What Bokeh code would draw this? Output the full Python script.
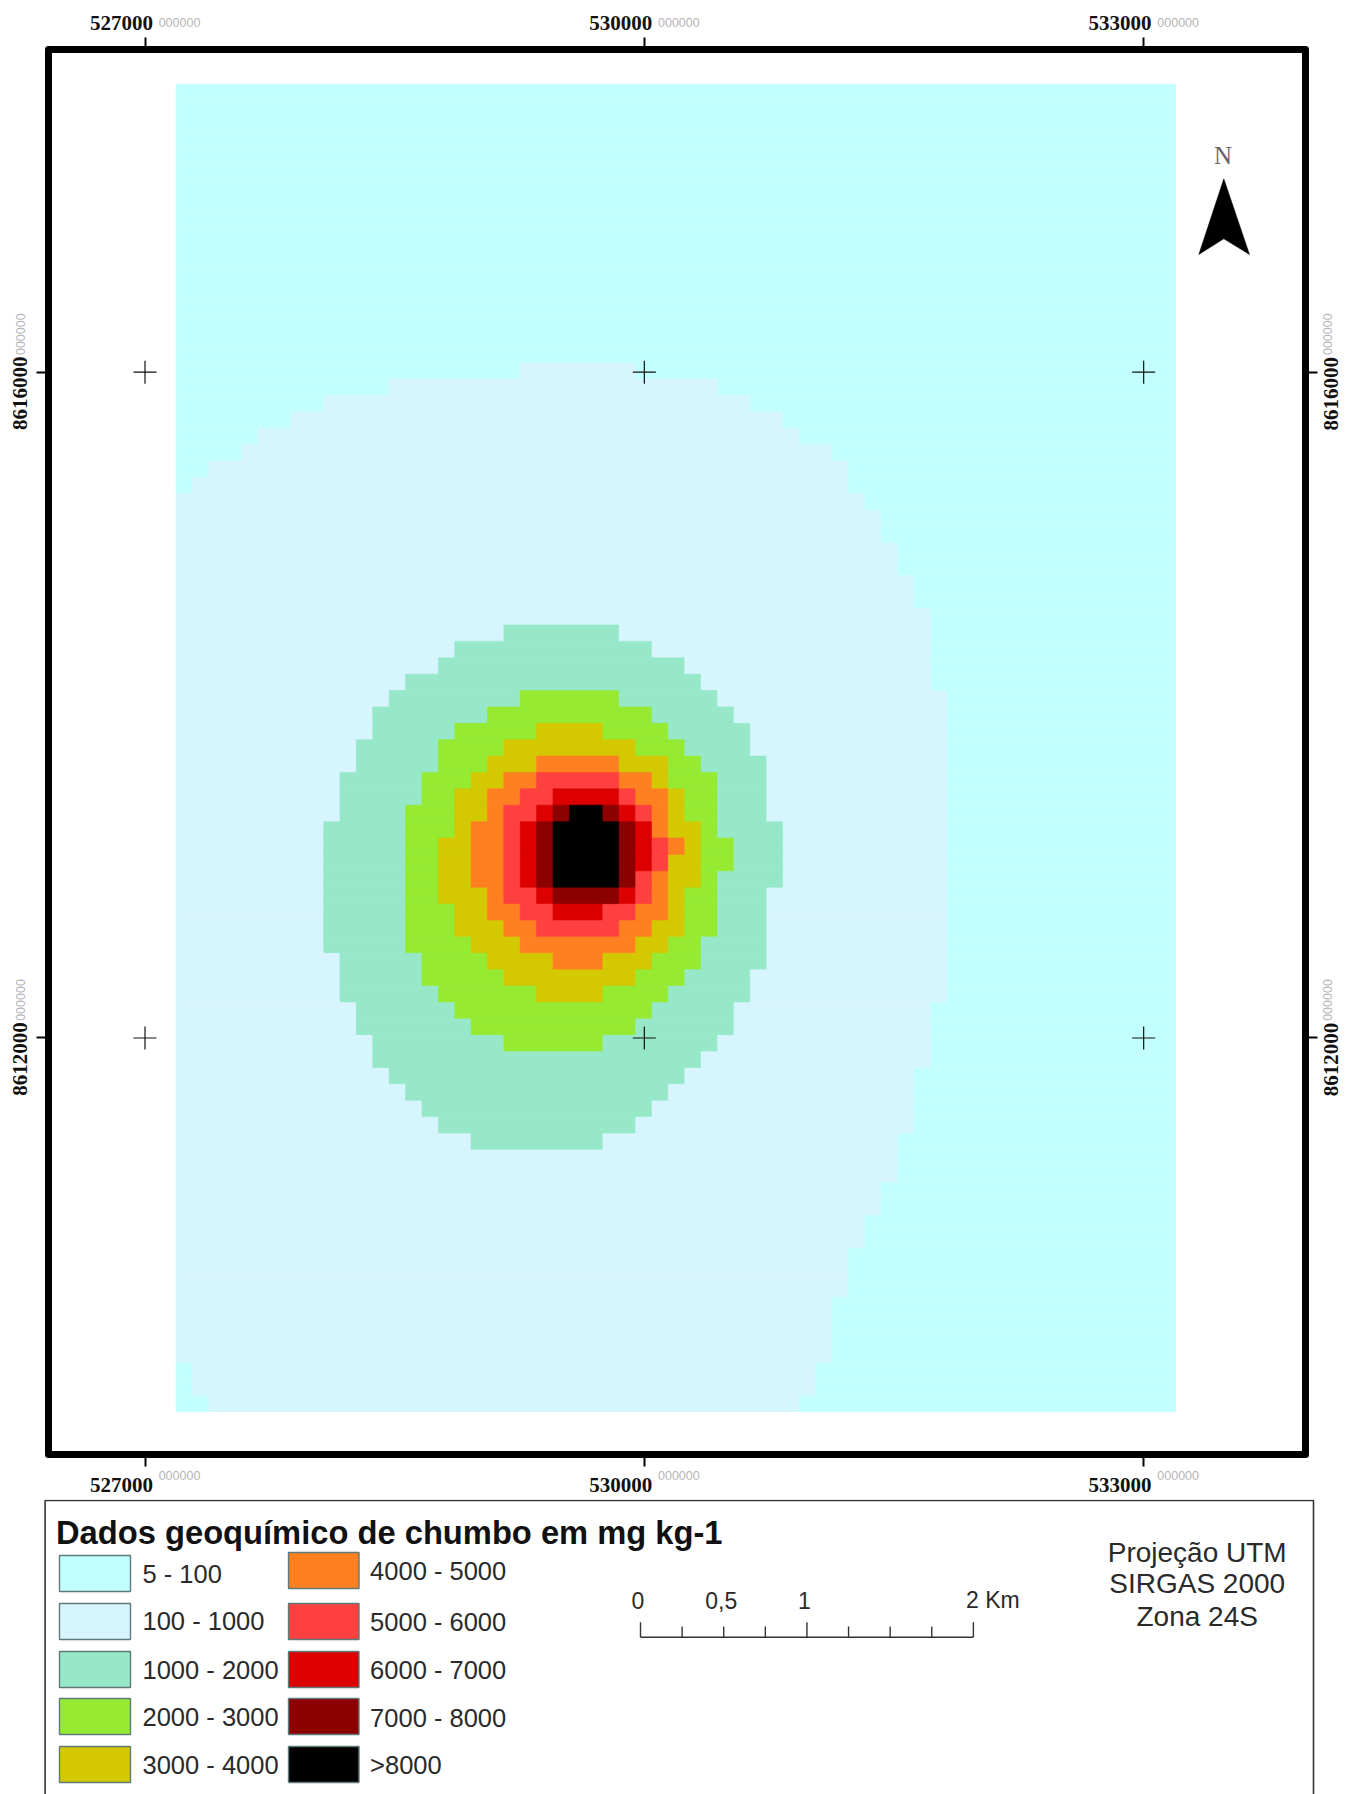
from math import pi
from bokeh.plotting import figure
from bokeh.layouts import column
from bokeh.models import (Range1d, LinearAxis, FixedTicker, Label)
from bokeh.embed import file_html
from bokeh.resources import INLINE
from bokeh.core.properties import value

# ---- data ----
x_ticks = [527000, 530000, 533000]
y_ticks = [8612000, 8616000]
legend_title = "Dados geoquímico de chumbo em mg kg-1"
legend_labels = ["5 - 100", "100 - 1000", "1000 - 2000", "2000 - 3000", "3000 - 4000",
                 "4000 - 5000", "5000 - 6000", "6000 - 7000", "7000 - 8000", ">8000"]
class_colors = ["#C2FFFF", "#D6F5FF", "#96E8C8", "#96EB32", "#D4C800",
                "#FF7F21", "#FF4040", "#DC0000", "#8C0000", "#000000"]
projection_lines = ["Projeção UTM", "SIRGAS 2000", "Zona 24S"]
scale_km = [0, 0.25, 0.5, 0.75, 1, 1.25, 1.5, 1.75, 2]
scale_labels = {0: "0", 0.5: "0,5", 1: "1"}

# raster origin and cell size (metres)
raster_x0 = 527187.0
raster_y0 = 8617730.0
cell = 98.45
raster_cols = 61
raster_rows = 81

# class zones as first row + per-row left/right cell (right exclusive), raster cells
c100_first = 17
c100_left = [21, 13, 9, 7, 5, 4, 2, 1,
             0, 0, 0, 0, 0, 0, 0, 0, 0, 0, 0, 0, 0, 0, 0, 0, 0, 0, 0, 0, 0, 0, 0, 0, 0,
             0, 0, 0, 0, 0, 0, 0, 0, 0, 0, 0, 0, 0, 0, 0, 0, 0, 0, 0, 0, 0, 0, 0, 0, 0,
             0, 0, 0, 1, 1, 2]
c100_right = [28, 33, 35, 37, 38, 40, 41, 41, 42, 43, 43, 44, 44, 45, 45, 46,
              46, 46, 46, 46,
              47, 47, 47, 47, 47, 47, 47, 47, 47, 47, 47, 47, 47, 47, 47, 47, 47, 47, 47,
              46, 46, 46, 46, 45, 45, 45, 45, 44, 44, 44, 43, 43, 42, 42, 41, 41, 41,
              40, 40, 40, 40, 39, 39, 38]

# inner zones: local cells, shifted by (core_col0, core_row0)
core_col0 = 9
core_row0 = 33
c1000_first = 0
c1000_left = [11, 8, 7, 5, 4, 3, 3, 2, 2, 1, 1, 1, 0, 0, 0, 0, 0, 0, 0, 0, 1, 1, 1, 2, 2, 3, 3, 4, 5, 6, 7, 9]
c1000_right = [18, 20, 22, 23, 24, 25, 26, 26, 27, 27, 27, 27, 28, 28, 28, 28, 27, 27, 27, 27, 27, 26, 26, 25, 25, 24, 23, 22, 21, 20, 19, 17]
c2000_first = 4
c2000_left = [12, 10, 8, 7, 7, 6, 6, 5, 5, 5, 5, 5, 5, 5, 5, 5, 6, 6, 7, 8, 9, 11]
c2000_right = [18, 20, 21, 22, 23, 24, 24, 24, 24, 25, 25, 24, 24, 24, 24, 23, 23, 22, 21, 20, 19, 17]
c3000_first = 6
c3000_left = [13, 11, 10, 9, 8, 8, 8, 7, 7, 7, 7, 8, 8, 9, 10, 11, 13]
c3000_right = [17, 19, 21, 21, 22, 22, 23, 23, 23, 23, 22, 22, 22, 21, 20, 19, 17]
c4000_first = 8
c4000_left = [13, 11, 10, 10, 9, 9, 9, 9, 10, 10, 11, 12, 14]
c4000_right = [18, 20, 21, 21, 21, 22, 21, 21, 21, 21, 20, 19, 17]
c5000_first = 9
c5000_left = [13, 12, 11, 11, 11, 11, 11, 11, 12, 13]
c5000_right = [18, 19, 20, 20, 21, 21, 20, 20, 19, 18]
c6000_first = 10
c6000_left = [14, 13, 12, 12, 12, 12, 13, 14]
c6000_right = [18, 19, 20, 20, 20, 19, 19, 17]
c7000_first = 11
c7000_left = [14, 13, 13, 13, 13, 14]
c7000_right = [18, 19, 19, 19, 19, 18]
c8000_first = 11
c8000_left = [15, 14, 14, 14, 14]
c8000_right = [17, 18, 18, 18, 18]

# ---- page geometry (the page template has no body margin) ----
M_PER_PX = 6.008
REF_PX_X, REF_PX_Y = 144.5, 371.7
FRAME = dict(l=48, r=1305, t=49, b=1454)
PAGE_W, TOP_H, BOT_H = 1351, 1499, 295
FONT = "Liberation Sans"
SERIF = "Liberation Serif"


def ux(px):
    return x_ticks[0] + (px - REF_PX_X) * M_PER_PX


def uy(py):
    return y_ticks[1] - (py - REF_PX_Y) * M_PER_PX


# the plot area covers the whole figure; the map frame and its axes sit at fixed places inside it
p = figure(width=PAGE_W, height=TOP_H, output_backend="svg", toolbar_location=None,
           x_range=Range1d(ux(0), ux(PAGE_W)), y_range=Range1d(uy(TOP_H), uy(0)),
           min_border=0, x_axis_type=None, y_axis_type=None, background_fill_color="white",
           border_fill_color="white", outline_line_color=None, frame_align=False)
p.grid.visible = False


def draw_zone(first, left, right, color, col0=0, row0=0):
    rows = [first + row0 + i for i in range(len(left))]
    p.quad(left=[raster_x0 + (l + col0) * cell for l in left],
           right=[raster_x0 + (r + col0) * cell for r in right],
           top=[raster_y0 - r * cell for r in rows],
           bottom=[raster_y0 - (r + 1) * cell for r in rows],
           fill_color=color, line_color=color, line_width=0.6)


draw_zone(0, [0] * raster_rows, [raster_cols] * raster_rows, class_colors[0])
draw_zone(c100_first, c100_left, c100_right, class_colors[1])
zones = [(c1000_first, c1000_left, c1000_right), (c2000_first, c2000_left, c2000_right),
         (c3000_first, c3000_left, c3000_right), (c4000_first, c4000_left, c4000_right),
         (c5000_first, c5000_left, c5000_right), (c6000_first, c6000_left, c6000_right),
         (c7000_first, c7000_left, c7000_right), (c8000_first, c8000_left, c8000_right)]
for z, color in zip(zones, class_colors[2:]):
    draw_zone(z[0], z[1], z[2], color, core_col0, core_row0)

# map frame
p.quad(left=[ux(FRAME["l"])], right=[ux(FRAME["r"])], top=[uy(FRAME["t"])], bottom=[uy(FRAME["b"])],
       fill_color=None, line_color="black", line_width=7, line_join="round")

# graticule crosses
cx = [x for x in x_ticks for y in y_ticks]
cy = [y for x in x_ticks for y in y_ticks]
p.scatter(cx, cy, marker="cross", size=23, line_color="#111111", line_width=1.2, fill_color=None)

# north arrow
p.patch([ux(v) for v in (1223.3, 1198.3, 1223.3, 1249)],
        [uy(v) for v in (178.3, 254, 238.3, 254)], fill_color="black", line_color="black", line_width=0.5)
p.add_layout(Label(x=ux(1222.5), y=uy(155), text="N", text_font=SERIF, text_font_size="25px",
                   text_color="#666666", text_align="center", text_baseline="middle"))

# axes: trailing padding pushes the coordinate off-centre, leaving room for the pale suffix
pad_x, pad_y = "\u00a0" * 9, "\u00a0" * 8
axes = []
for side, py in (("above", FRAME["t"]), ("below", FRAME["b"])):
    ax = LinearAxis(ticker=FixedTicker(ticks=x_ticks), fixed_location=uy(py),
                    major_label_overrides={t: str(t) + pad_x for t in x_ticks})
    p.add_layout(ax, side)
    axes.append(ax)
ax_l = LinearAxis(ticker=FixedTicker(ticks=y_ticks), fixed_location=ux(FRAME["l"]),
                  major_label_overrides={t: str(t) + pad_y for t in y_ticks},
                  major_label_orientation="parallel")
ax_r = LinearAxis(ticker=FixedTicker(ticks=y_ticks), fixed_location=ux(FRAME["r"]),
                  major_label_overrides={t: "" for t in y_ticks})
p.add_layout(ax_l, "left")
p.add_layout(ax_r, "right")
axes += [ax_l, ax_r]
for ax in axes:
    ax.axis_line_color = None
    ax.major_tick_line_color = "black"
    ax.major_tick_line_width = 2
    ax.major_tick_in = 0
    ax.major_tick_out = 12
    ax.minor_tick_line_color = None
    ax.major_label_standoff = 6
    ax.major_label_text_font = SERIF
    ax.major_label_text_font_style = "bold"
    ax.major_label_text_font_size = "21px"
    ax.major_label_text_color = "#111111"
axes[0].major_label_standoff = 3
ax_l.major_label_standoff = 4

# right-hand coordinates read upward, like the left-hand ones
for t in y_ticks:
    p.add_layout(Label(x=ux(1330), y=t - 21.5 * M_PER_PX, text=str(t), angle=pi / 2,
                       text_font=SERIF, text_font_style="bold", text_font_size="21px",
                       text_color="#111111", text_align="center", text_baseline="middle"))

# pale superscript after each coordinate
SUF = dict(text="000000", text_font=FONT, text_font_size="12.5px", text_color="#b5b5b5",
           text_align="center", text_baseline="middle")
for t in x_ticks:
    p.add_layout(Label(x=t + 34.5 * M_PER_PX, y=uy(21.7), **SUF))
    p.add_layout(Label(x=t + 34.5 * M_PER_PX, y=uy(1475), **SUF))
for t in y_ticks:
    p.add_layout(Label(x=ux(20), y=t + 38 * M_PER_PX, angle=pi / 2, **SUF))
    p.add_layout(Label(x=ux(1327), y=t + 38 * M_PER_PX, angle=pi / 2, **SUF))

# ---- legend panel, in page pixels ----
q = figure(width=PAGE_W, height=BOT_H, output_backend="svg", toolbar_location=None,
           x_range=Range1d(0, PAGE_W), y_range=Range1d(TOP_H + BOT_H, TOP_H),
           min_border=0, x_axis_type=None, y_axis_type=None, outline_line_color=None,
           frame_align=False)
q.grid.visible = False
q.multi_line([[44.6, 44.6, 1313, 1313]], [[1800, 1500, 1500, 1800]],
             line_color="#333333", line_width=1.6)


def txt(x, y, s, size, align="left", color="#2a2a2a", style="normal"):
    q.text([x], [y], text=[s], text_font=value(FONT), text_font_size=value(size), text_color=color,
           text_align=align, text_baseline="middle", text_font_style=style)


txt(55.5, 1532, legend_title, "32.7px", color="#111111", style="bold")

sw_y = [(1555, 1591), (1603, 1639), (1651, 1687), (1698, 1734), (1746, 1782),
        (1552, 1588), (1603, 1639), (1651, 1687), (1698, 1734), (1746, 1782)]
lab_y = [1573, 1620.7, 1669, 1716.7, 1764, 1570, 1621, 1669, 1717, 1764]
for i, (lab, col) in enumerate(zip(legend_labels, class_colors)):
    x0, x1, tx = (59, 130, 142) if i < 5 else (288, 358.5, 369.6)
    q.quad(left=[x0], right=[x1], top=[sw_y[i][0]], bottom=[sw_y[i][1]],
           fill_color=col, line_color="#5f7a7a", line_width=1.4)
    txt(tx, lab_y[i], lab, "25.5px")

# scale bar
BAR_X0, BAR_Y = 640, 1636.7
km_px = 1000 / M_PER_PX
q.line([BAR_X0, BAR_X0 + 2 * km_px], [BAR_Y, BAR_Y], line_color="#333333", line_width=1.6)
for k in scale_km:
    top = 1621.7 if k in (0, 1, 2) else 1626
    q.line([BAR_X0 + k * km_px] * 2, [top, BAR_Y], line_color="#333333", line_width=1.4)
for k, s in scale_labels.items():
    txt(BAR_X0 + k * km_px - 2.5, 1599.5, s, "23px", align="center")
txt(965.6, 1599.5, "2 Km", "23px")

for s, y in zip(projection_lines, (1551.7, 1583, 1615.7)):
    txt(1196.7, y, s, "28px", align="center")

layout = column(p, q, spacing=0)
open("out.html", "w").write(file_html(layout, INLINE))
